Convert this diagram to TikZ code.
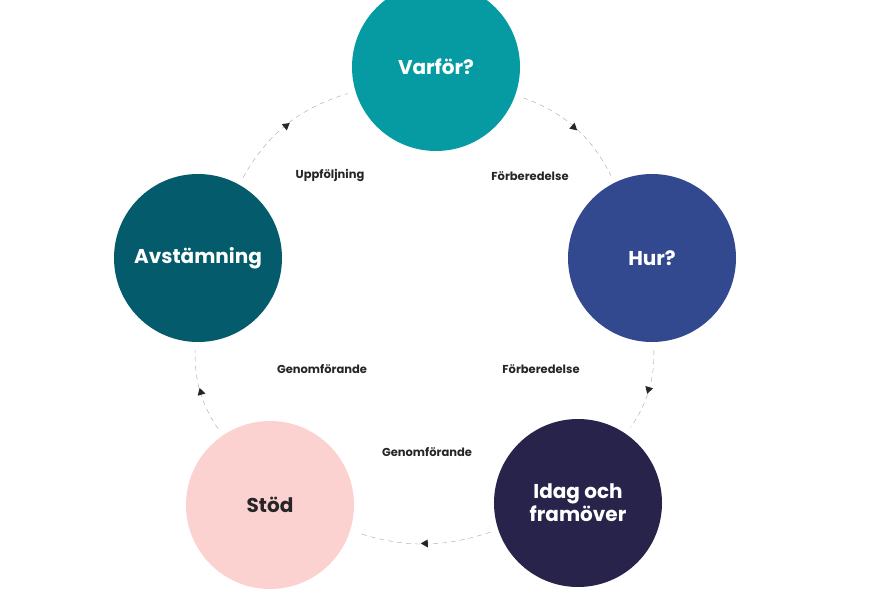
\documentclass[tikz,border=0pt]{standalone}
\usepackage{fontspec}
\setmainfont{Poppins}
\usetikzlibrary{decorations.markings,arrows.meta}
\definecolor{tealc}{HTML}{069BA2}
\definecolor{bluec}{HTML}{32488F}
\definecolor{navyc}{HTML}{28234B}
\definecolor{pinkc}{HTML}{FCD2D1}
\definecolor{darktealc}{HTML}{045B6B}
\tikzset{
  stage/.style={circle, minimum size=168pt, inner sep=0pt, align=center,
    font=\fontsize{20}{23}\selectfont\bfseries, text=white},
  lbl/.style={font=\fontsize{11.5}{13}\selectfont\bfseries, text=black!85},
  link/.style={draw=gray!70, dashed, dash pattern=on 5pt off 4pt, thin,
    shorten <=8pt, shorten >=8pt,
    decoration={markings, mark=at position 0.5 with {\fill[black!85] (3.5pt,0) -- (-3.5pt,4pt) -- (-3.5pt,-4pt) -- cycle;}},
    postaction={decorate}}
}
\begin{document}
\begin{tikzpicture}[x=1pt,y=-1pt]
\useasboundingbox (0,0) rectangle (888,592);

% stages
\node[stage, fill=tealc] (why) at (436,67) {Varför?};
\node[stage, fill=bluec] (how) at (652,258) {Hur?};
\node[stage, fill=navyc] (today) at (578,503) {Idag och\\framöver};
\node[stage, fill=pinkc, text=black!85] (support) at (270,505) {Stöd};
\node[stage, fill=darktealc] (tune) at (198,258) {Avstämning};

% links
\draw[link] (why) to[bend left=22] (how);
\draw[link] (how) to[bend left=18] (today);
\draw[link] (today) to[bend left=18] (support);
\draw[link] (support) to[bend left=18] (tune);
\draw[link] (tune) to[bend left=22] (why);

% labels
\node[lbl] (l1) at (330,175) {Uppföljning};
\node[lbl] (l2) at (530,176) {Förberedelse};
\node[lbl] (l3) at (541,369) {Förberedelse};
\node[lbl] (l4) at (322,369) {Genomförande};
\node[lbl] (l5) at (427,452) {Genomförande};
\end{tikzpicture}
\end{document}
